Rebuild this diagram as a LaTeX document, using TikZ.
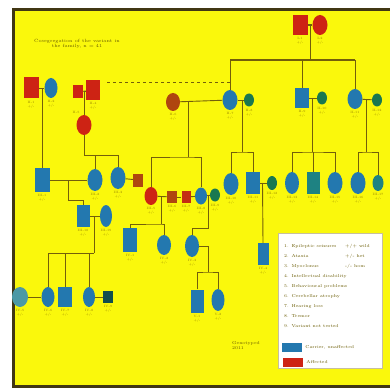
\documentclass[tikz,border=0pt]{standalone}
\definecolor{pedyellow}{RGB}{250,248,12}
\definecolor{pedred}{RGB}{205,35,20}
\definecolor{pedblue}{RGB}{35,120,175}
\definecolor{pedgreen}{RGB}{25,120,80}
\definecolor{pedteal}{RGB}{30,130,130}
\definecolor{pedbrown}{RGB}{175,70,15}
\definecolor{pedline}{RGB}{115,95,10}
\definecolor{pedtext}{RGB}{150,130,0}
\definecolor{pedframe}{RGB}{65,55,20}
\usetikzlibrary{shapes,positioning,calc}

\begin{document}
\begin{tikzpicture}[x=1pt, y=-1pt,
    male/.style={rectangle, minimum width=14pt, minimum height=20pt, inner sep=0pt},
    female/.style={ellipse, minimum width=14pt, minimum height=20pt, inner sep=0pt},
    smallsym/.style={minimum width=10pt, minimum height=13pt},
    lab/.style={font=\fontsize{3.2}{4}\selectfont, text=pedtext, align=center, inner sep=0.3pt},
    legtext/.style={font=\fontsize{4.3}{5}\selectfont, text=pedtext!70!black, anchor=west, inner sep=0pt},
    link/.style={pedline, line width=0.9pt}
]
    \useasboundingbox (0,0) rectangle (390,390);

    % Background and frame
    \fill[pedyellow] (13,10) rectangle (390,386);
    \draw[pedframe, line width=3pt] (390,10) -- (13,10) -- (13,386) -- (390,386);

    % Title
    \node[font=\fontsize{4.6}{5.6}\selectfont, text=pedtext!70!black, align=center] (title) at (77,44)
        {Cosegregation of the variant in\\ the family, n = 41};

    % Generation I
    \node[male, fill=pedred, minimum width=15pt] (i1) at (300,25) {};
    \node[female, fill=pedred, minimum width=15pt] (i2) at (320,25) {};

    % Generation II
    \node[male, fill=pedred, minimum width=15pt, minimum height=21pt] (a1) at (31,88) {};
    \node[female, fill=pedblue, minimum width=13pt] (a2) at (51,88) {};
    \node[male, smallsym, fill=pedred] (a3) at (78,92) {};
    \node[male, fill=pedred] (a4) at (93,90) {};
    \node[female, fill=pedred, minimum width=15pt] (a5) at (84,125) {};
    \node[female, fill=pedbrown, minimum height=18pt] (b1) at (173,102) {};
    \node[female, fill=pedblue, minimum width=15pt] (b2) at (230,100) {};
    \node[female, smallsym, fill=pedgreen] (b3) at (249,100) {};
    \node[male, fill=pedblue] (b4) at (302,98) {};
    \node[female, smallsym, fill=pedgreen] (b5) at (322,98) {};
    \node[female, fill=pedblue, minimum width=15pt] (b6) at (355,99) {};
    \node[female, smallsym, fill=pedgreen] (b7) at (377,100) {};

    % Generation III
    \node[male, fill=pedblue, minimum width=15pt, minimum height=24pt] (c1) at (42,180) {};
    \node[female, fill=pedblue, minimum width=15pt, minimum height=22pt] (c2) at (95,180) {};
    \node[female, fill=pedblue, minimum width=15pt, minimum height=22pt] (c3) at (118,178) {};
    \node[male, smallsym, fill=pedbrown] (c4) at (138,180) {};
    \node[female, fill=pedred, minimum width=13pt, minimum height=18pt] (c5) at (151,196) {};
    \node[male, smallsym, fill=pedbrown, minimum height=12pt] (c6) at (172,197) {};
    \node[male, smallsym, fill=pedred!70!pedbrown, minimum width=9pt, minimum height=12pt] (c7) at (186,197) {};
    \node[female, fill=pedblue, minimum width=12pt, minimum height=17pt] (c8) at (201,196) {};
    \node[female, smallsym, fill=pedgreen] (c9) at (215,195) {};
    \node[female, fill=pedblue, minimum width=15pt, minimum height=22pt] (c10) at (231,184) {};
    \node[male, fill=pedblue, minimum height=22pt] (c11) at (253,183) {};
    \node[female, smallsym, fill=pedgreen, minimum height=14pt] (c12) at (272,183) {};
    \node[female, fill=pedblue, minimum height=22pt] (c13) at (292,183) {};
    \node[male, fill=pedteal, minimum width=13pt, minimum height=22pt] (c14) at (313,183) {};
    \node[female, fill=pedblue, minimum width=15pt, minimum height=22pt] (c15) at (335,183) {};
    \node[female, fill=pedblue, minimum width=15pt, minimum height=22pt] (c16) at (358,183) {};
    \node[female, fill=pedteal, minimum width=11pt, minimum height=16pt] (c17) at (378,183) {};
    \node[male, fill=pedblue, minimum width=13pt, minimum height=22pt] (d1) at (83,216) {};
    \node[female, fill=pedblue, minimum width=12pt, minimum height=22pt] (d2) at (106,216) {};
    \node[male, fill=pedblue, minimum height=24pt] (d3) at (130,240) {};
    \node[female, fill=pedblue] (d4) at (164,245) {};
    \node[female, fill=pedblue, minimum height=22pt] (d5) at (192,246) {};
    \node[male, fill=pedblue, minimum width=11pt, minimum height=22pt] (d6) at (263,254) {};

    % Generation IV
    \node[female, fill=pedteal!70!pedblue!80!white, minimum width=16pt] (e1) at (20,297) {};
    \node[female, fill=pedblue, minimum width=13pt] (e2) at (48,297) {};
    \node[male, fill=pedblue] (e3) at (65,297) {};
    \node[female, fill=pedblue, minimum width=12pt] (e4) at (89,297) {};
    \node[male, smallsym, fill=pedteal!60!black, minimum height=12pt] (e5) at (108,297) {};
    \node[male, fill=pedblue, minimum width=13pt, minimum height=23pt] (f1) at (197,301) {};
    \node[female, fill=pedblue, minimum width=13pt, minimum height=22pt] (f2) at (218,300) {};

    % Generation I to II
    \coordinate (s1) at (310,60);
    \draw[link, line width=1.6pt] (i1) -- (i2);
    \draw[link] ($(i1)!0.5!(i2)$) -- (s1);
    \draw[link, line width=1.6pt] (b2.north |- s1) -- (b6.north |- s1);
    \draw[link] (b2.north |- s1) -- (b2.north);
    \draw[link] (b4.north |- s1) -- (b4.north);
    \draw[link] (b6.north |- s1) -- (b6.north);

    % Couples in generation II
    \draw[link] (a1) -- (a2);
    \draw[link] (a3) -- (a4);
    \draw[link] (b1) -- (b2);
    \draw[link] (b2) -- (b3);
    \draw[link] (b4) -- (b5);
    \draw[link] (b6) -- (b7);
    \coordinate (dl) at (107,82);
    \draw[link, dashed] (dl) -- (b2.north |- dl);

    % Generation II to III
    \draw[link] ($(a1)!0.5!(a2)$) -| (c1.north);
    \draw[link] ($(a3)!0.5!(a4)$) -| (a5.north);
    \coordinate (s2) at (84,155);
    \draw[link] (a5.south) -- (s2) -| (c3.north);
    \draw[link] (c2.north |- s2) -- (c2.north);
    \coordinate (s3) at (188,157);
    \draw[link] (s3 |- b1) -- (s3);
    \draw[link] (c5.north) |- (s3) -| (c8.north);
    \coordinate (s4) at (242,152);
    \draw[link] (s4 |- b2) -- (s4);
    \draw[link] (c10.north) |- (s4) -| (c11.north);
    \coordinate (s5) at (312,152);
    \draw[link] (s5 |- b4) -- (s5);
    \draw[link] (c13.north) |- (s5) -| (c15.north);
    \draw[link] (c14.north |- s5) -- (c14.north);
    \coordinate (s6) at (366,152);
    \draw[link] (s6 |- b6) -- (s6);
    \draw[link] (c16.north) |- (s6) -| (c17.north);

    % Couples in generation III
    \draw[link] (c1) -- (c2);
    \draw[link] (c3) -- (c4);
    \draw[link] (c5) -- (c6);
    \draw[link] (c6) -- (c7);
    \draw[link] (c7) -- (c8);
    \draw[link] (c8) -- (c9);
    \draw[link] (c11) -- (c12);
    \draw[link] (d1) -- (d2);
    \draw[link] ($(c11)!0.5!(c12)$) -- (d6.north);
    \coordinate (s7) at (68,200);
    \draw[link] (s7 |- c1) -- (s7) -| (d1.north);
    \coordinate (s9) at (161,224);
    \draw[link] (s9 |- c5) -- (s9);
    \draw[link] (d3.north) |- (s9) -| (d4.north);
    \coordinate (s10) at (208,228);
    \draw[link] (s10 |- c8) -- (s10) -| (d5.north);

    % Generation III to IV
    \coordinate (s8) at (94,253);
    \draw[link] (s8 |- d1) -- (s8);
    \draw[link] (e2.north) |- (s8);
    \draw[link] (e3.north |- s8) -- (e3.north);
    \draw[link] (e4.north |- s8) -- (e4.north);
    \draw[link] (e1) -- (e2);
    \draw[link] (e4) -- (e5);
    \coordinate (s11) at (208,272);
    \draw[link] (d5.east) -| (s11);
    \draw[link] (f1.north) |- (s11) -| (f2.north);

    % Labels
    \foreach \n/\t in {i1/I-1, i2/I-2, a1/II-1, a2/II-2, a4/II-4, b1/II-6, b2/II-7, b3/II-8,
        b4/II-9, b5/II-10, b6/II-11, b7/II-12, c1/III-1, c2/III-2, c3/III-3, c5/III-5,
        c6/III-6, c7/III-7, c8/III-8, c9/III-9, c10/III-10, c11/III-11, c12/III-12,
        c13/III-13, c14/III-14, c15/III-15, c16/III-16, c17/III-17, d1/III-18, d2/III-19,
        d3/IV-1, d4/IV-2, d5/IV-3, d6/IV-4, e1/IV-5, e2/IV-6, e3/IV-7, e4/IV-8, e5/IV-9,
        f1/V-1, f2/V-2}
        \node[lab, below=2pt of \n] (l\n) {\t\\ +/-};
    \node[lab, above=1pt of a5, xshift=-8pt] (la5) {II-5};

    % Legend
    \node[draw=pedline!40, fill=white, minimum width=104pt, minimum height=135pt, inner sep=0pt] (leg) at (330,300.5) {};
    \foreach \k/\t in {0/1. Epileptic seizures, 1/2. Ataxia, 2/3. Myoclonus,
        3/4. Intellectual disability, 4/5. Behavioural problems, 5/6. Cerebellar atrophy,
        6/7. Hearing loss, 7/8. Tremor, 8/9. Variant not tested}
        \node[legtext] (leg\k) at (284,246+10*\k) {\t};
    \node[legtext] (legr1) at (345,246) {+/+ wild};
    \node[legtext] (legr2) at (345,256) {+/- het};
    \node[legtext] (legr3) at (345,266) {-/- hom};
    \node[rectangle, fill=pedblue, minimum width=20pt, minimum height=9pt, inner sep=0pt] (kblue) at (292,347) {};
    \node[legtext, right=3pt of kblue] (tblue) {Carrier, unaffected};
    \node[rectangle, fill=pedred, minimum width=20pt, minimum height=9pt, inner sep=0pt] (kred) at (293,362) {};
    \node[legtext, right=3pt of kred] (tred) {Affected};

    % Note
    \node[legtext, align=left, anchor=north west] (note) at (232,341) {Genotyped\\ 2011};
\end{tikzpicture}
\end{document}
